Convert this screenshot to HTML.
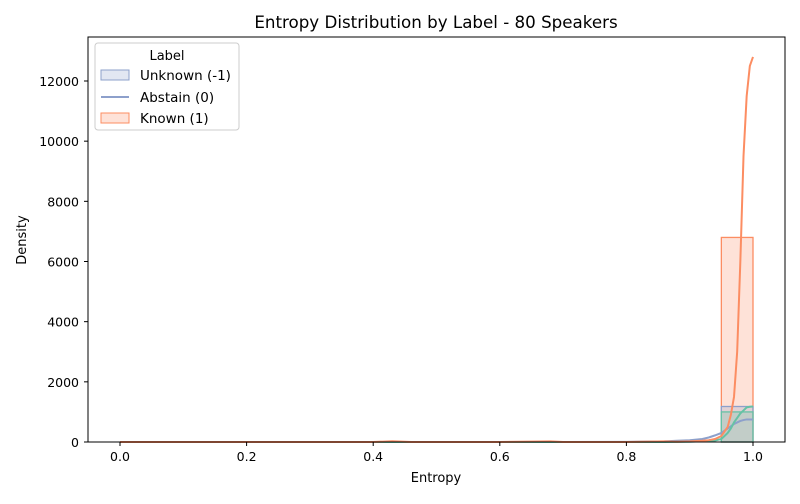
<!DOCTYPE html>
<html><head><meta charset="utf-8"><style>
body{margin:0;background:#fff;font-family:"DejaVu Sans","Liberation Sans",sans-serif}
svg text{font-family:"DejaVu Sans","Liberation Sans",sans-serif;fill:#000}
</style></head><body>
<svg id="c" width="800" height="500">
<rect width="800" height="500" fill="#fff"/>
<text x="436" y="28" font-size="16.7" text-anchor="middle">Entropy Distribution by Label - 80 Speakers</text>
<g id="marks"></g>
<rect x="88" y="37" width="697" height="405" fill="none" stroke="#000" stroke-width="1"/>
<g id="axes"></g>
<text x="436" y="482" font-size="13" text-anchor="middle">Entropy</text>
<text x="26" y="240" font-size="13" text-anchor="middle" transform="rotate(-90 26 240)">Density</text>
<g>
<rect x="95" y="43" width="144" height="87" rx="3" fill="#fff" stroke="#ccc"/>
<text x="167" y="60" font-size="13" text-anchor="middle">Label</text>
<g><rect x="101" y="70" width="28" height="10" fill="rgba(141,160,203,0.25)" stroke="#8da0cb"/><text x="140" y="80" font-size="13.5">Unknown (-1)</text></g>
<g><line x1="101" y1="97" x2="129" y2="97" stroke="#8da0cb" stroke-width="2"/><text x="140" y="102" font-size="13.5">Abstain (0)</text></g>
<g><rect x="101" y="113" width="28" height="10" fill="rgba(252,141,98,0.25)" stroke="#fc8d62"/><text x="140" y="123" font-size="13.5">Known (1)</text></g>
</g>
</svg>
<script>
const xTicks=[0,0.2,0.4,0.6,0.8,1.0];
const yTicks=[0,2000,4000,6000,8000,10000,12000];
const binStart=[0.95];
const binEnd=[1.0];
const knownBars=[6800];
const unknownBars=[1180];
const abstainBars=[1000];
const kdeX=[0,0.2,0.4,0.43,0.46,0.6,0.68,0.7,0.8,0.86,0.88,0.9,0.92,0.93,0.94,0.95,0.96,0.965,0.97,0.975,0.98,0.985,0.99,0.995,1.0];
const knownKde=[0,0,0,25,0,0,20,0,0,20,10,20,40,60,100,200,500,900,1500,3000,6000,9500,11500,12500,12800];
const unknownKde=[0,0,0,0,0,0,0,0,5,20,40,60,100,150,220,300,450,520,600,650,700,730,750,750,750];
const abstainKde=[0,0,0,0,0,0,0,0,0,0,5,10,25,35,50,100,300,450,650,800,950,1050,1150,1170,1180];
const xs=v=>120+v*633, ys=v=>442-v*(361/12000);
const NS='http://www.w3.org/2000/svg';
const marks=document.getElementById('marks'), axes=document.getElementById('axes');
function mk(tag,attrs,parent){const e=document.createElementNS(NS,tag);for(const k in attrs)e.setAttribute(k,attrs[k]);parent.appendChild(e);return e;}
function bars(vals,fill,stroke,name){vals.forEach((v,i)=>{
 const r=mk('rect',{x:xs(binStart[i]),y:ys(v),width:xs(binEnd[i])-xs(binStart[i]),height:ys(0)-ys(v),fill:fill,stroke:stroke,'stroke-width':1.3},marks);
 
 });}
bars(knownBars,'rgba(252,141,98,0.25)','#fc8d62','bar-known');
bars(unknownBars,'rgba(141,160,203,0.25)','#8da0cb','bar-unknown');
bars(abstainBars,'rgba(102,194,165,0.25)','#66c2a5','bar-abstain');
function line(vals,col,name){const p=mk('polyline',{points:kdeX.map((x,i)=>xs(x)+','+ys(vals[i])).join(' '),fill:'none',stroke:col,'stroke-width':2},marks);
 
 }
line(unknownKde,'#8da0cb','kde-unknown');
line(abstainKde,'#66c2a5','kde-abstain');
line(knownKde,'#fc8d62','kde-known');
xTicks.forEach(t=>{mk('line',{x1:xs(t),x2:xs(t),y1:442,y2:446,stroke:'#000'},axes);
 const tx=mk('text',{x:xs(t),y:461,'font-size':12.5,'text-anchor':'middle'},axes);tx.textContent=t.toFixed(1);
 
 });
yTicks.forEach(t=>{mk('line',{x1:84,x2:88,y1:ys(t),y2:ys(t),stroke:'#000'},axes);
 const tx=mk('text',{x:79,y:ys(t)+5,'font-size':12.5,'text-anchor':'end'},axes);tx.textContent=t;
 
 });
</script>
</body></html>
